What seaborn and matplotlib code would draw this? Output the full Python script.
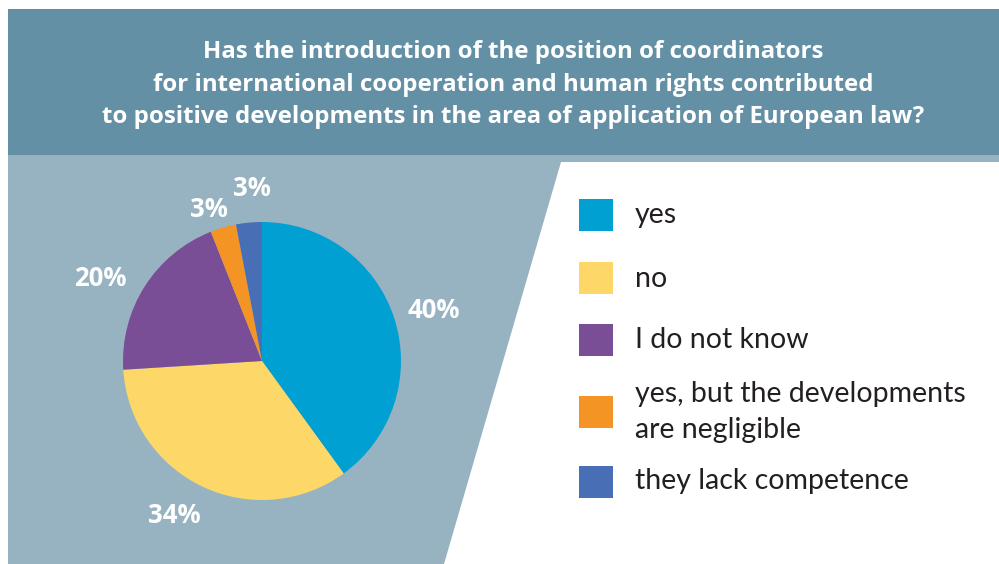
import matplotlib
matplotlib.use("Agg")
import matplotlib.pyplot as plt
import seaborn as sns
from matplotlib.patches import Rectangle, Polygon

# Survey answers and their shares (percent)
categories = [
    "yes",
    "no",
    "I do not know",
    "yes, but the developments\nare negligible",
    "they lack competence",
]
shares = [40, 34, 20, 3, 3]
slice_colors = ["#00a0d2", "#fdd868", "#7a4e97", "#f39424", "#486fb5"]

title_lines = [
    "Has the introduction of the position of coordinators",
    "for international cooperation and human rights contributed",
    "to positive developments in the area of application of European law?",
]

HEADER = "#6490a5"
PANEL = "#97b3c1"
TEXT_DARK = "#231f20"
BOLD_FONT = ["Open Sans", "DejaVu Sans"]

sns.set_theme(style="white")
plt.rcParams["font.family"] = ["Lato", "DejaVu Sans"]
palette = sns.color_palette(slice_colors)

W, H = 999, 564
fig = plt.figure(figsize=(W / 100, H / 100), dpi=100)
fig.patch.set_facecolor("white")

# Background canvas in pixel units (y grows downward)
bg = fig.add_axes([0, 0, 1, 1])
bg.set_xlim(0, W)
bg.set_ylim(H, 0)
bg.axis("off")
bg.add_patch(Rectangle((8, 9), W - 8, 146, facecolor=HEADER, edgecolor="none"))
bg.add_patch(Polygon([(8, 155), (W, 155), (W, 162), (561, 162), (444, H), (8, H)],
                     closed=True, facecolor=PANEL, edgecolor="none"))

# Title in the header band
for line, base in zip(title_lines, [58, 91, 123]):
    bg.text(513, base, line, ha="center", va="baseline", color="white",
            fontsize=17.3, fontweight="bold", family=BOLD_FONT)

# Pie chart
cx, cy, r = 262, 361, 139
pie_ax = fig.add_axes([(cx - r) / W, (H - cy - r) / H, 2 * r / W, 2 * r / H])
wedges, texts = pie_ax.pie(
    shares,
    colors=palette,
    startangle=90,
    counterclock=False,
    labels=[f"{v}%" for v in shares],
    labeldistance=1.25,
    wedgeprops=dict(linewidth=0),
)
pie_ax.set_xlim(-1, 1)
pie_ax.set_ylim(-1, 1)
pie_ax.axis("off")

label_pos = [(1.237, 0.36), (-0.633, -1.108), (-1.165, 0.59), (-0.381, 1.087), (-0.072, 1.238)]
for t, pos in zip(texts, label_pos):
    t.set_position(pos)
    t.set_ha("center")
    t.set_va("center")
    t.set_color("white")
    t.set_fontsize(18.5)
    t.set_fontweight("bold")
    t.set_family(BOLD_FONT)

# Legend
box_tops = [199, 262, 324, 396, 466]
baselines = [[223], [287], [348], [402, 438], [489]]
for col, label, top, bases in zip(palette, categories, box_tops, baselines):
    bg.add_patch(Rectangle((579, top), 34, 32, facecolor=col, edgecolor="none"))
    for part, b in zip(label.split("\n"), bases):
        bg.text(635, b, part, ha="left", va="baseline", color=TEXT_DARK, fontsize=20.5)

fig.savefig("out.png", dpi=100, facecolor="white")
